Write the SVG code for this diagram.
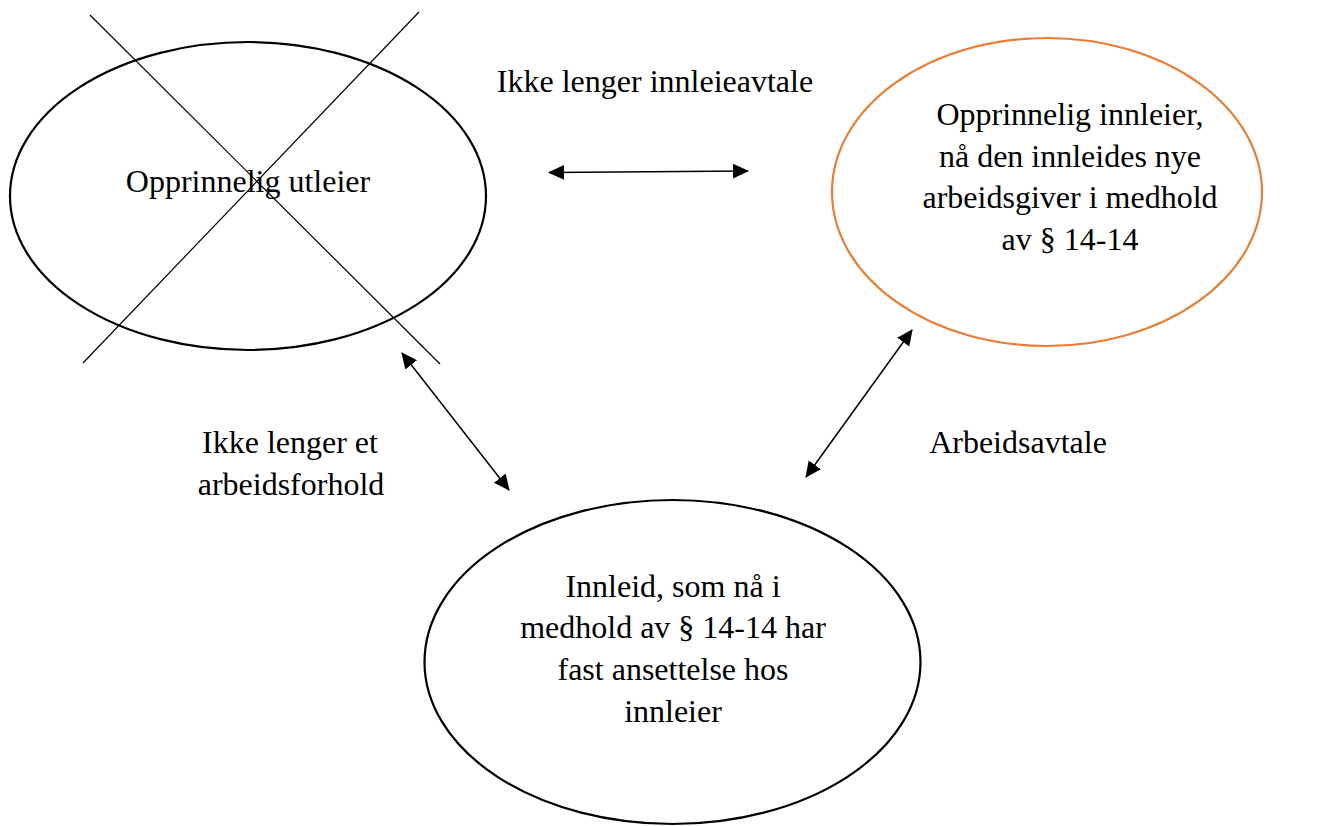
<svg xmlns="http://www.w3.org/2000/svg" width="1317" height="826" viewBox="0 0 1317 826">
<defs>
<style>
text{font-family:"Liberation Serif","Times New Roman",serif;font-size:32px;fill:#000;text-anchor:middle}
.node{fill:none;stroke:#000;stroke-width:2.2}
.orange{stroke:#ED7D31}
.cross{stroke:#000;stroke-width:1.2}
.conn{stroke:#000;stroke-width:1.5;fill:none;marker-start:url(#ah);marker-end:url(#ah)}
</style>
<marker id="ah" markerUnits="userSpaceOnUse" markerWidth="16" markerHeight="16" viewBox="0 0 16 15" refX="15" refY="7.5" orient="auto-start-reverse">
<path d="M0,0 L16,7.5 L0,15 z" fill="#000"/>
</marker>
</defs>
<rect width="1317" height="826" fill="#fff"/>
<g id="node-utleier">
<ellipse class="node" cx="248" cy="196" rx="238" ry="154"/>
<text x="248" y="192">Opprinnelig utleier</text>
<line class="cross" x1="90" y1="15" x2="440" y2="364"/>
<line class="cross" x1="419" y1="12" x2="83" y2="363"/>
</g>
<g id="node-innleier">
<ellipse class="node orange" cx="1047" cy="192" rx="215" ry="154"/>
<text x="1070" y="125">Opprinnelig innleier,</text>
<text x="1070" y="167">nå den innleides nye</text>
<text x="1070" y="208">arbeidsgiver i medhold</text>
<text x="1070" y="250">av § 14-14</text>
</g>
<g id="node-innleid">
<ellipse class="node" cx="672.5" cy="662" rx="248" ry="162"/>
<text x="673" y="597">Innleid, som nå i</text>
<text x="673" y="638">medhold av § 14-14 har</text>
<text x="673" y="680">fast ansettelse hos</text>
<text x="673" y="722">innleier</text>
</g>
<g id="connectors">
<line class="conn" x1="549" y1="172.5" x2="748" y2="171"/>
<line class="conn" x1="402" y1="353" x2="509" y2="490"/>
<line class="conn" x1="912" y1="330" x2="806" y2="477"/>
</g>
<g id="labels">
<text x="655" y="92">Ikke lenger innleieavtale</text>
<text x="290" y="453">Ikke lenger et</text>
<text x="291" y="495">arbeidsforhold</text>
<text x="1018" y="453">Arbeidsavtale</text>
</g>
</svg>
